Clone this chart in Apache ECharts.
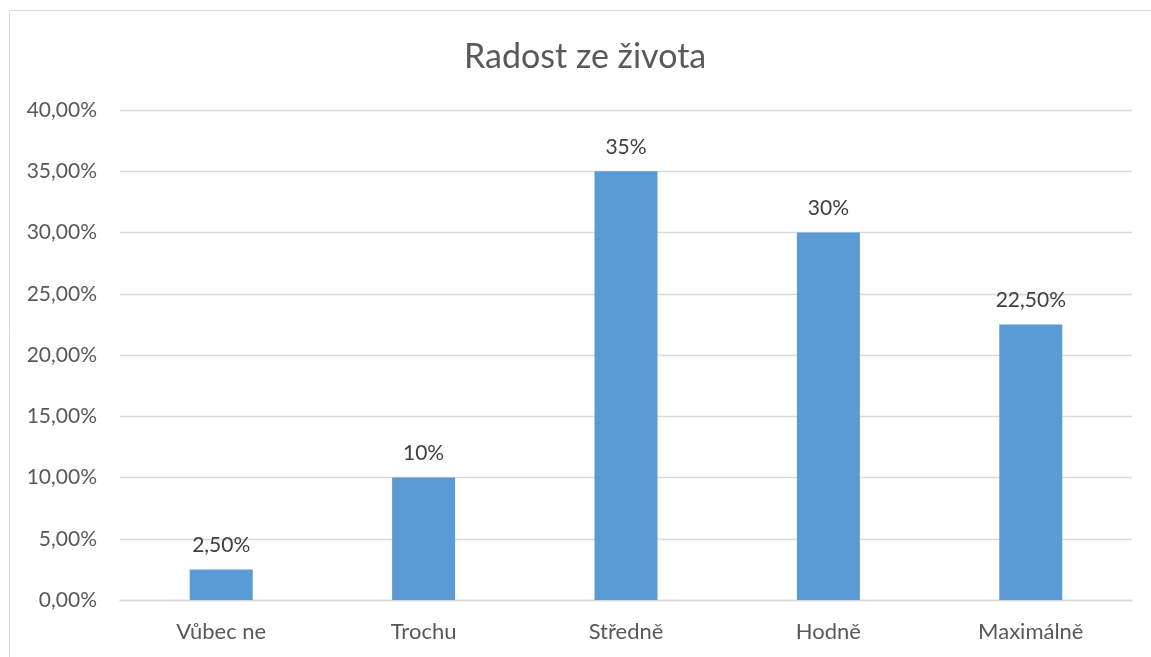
<!DOCTYPE html>
<html>
<head>
<meta charset="utf-8">
<script src="https://cdn.jsdelivr.net/npm/echarts@6/dist/echarts.min.js"></script>
<style>
  html, body { margin: 0; padding: 0; background: #fff; }
  #chart { width: 1151px; height: 657px; }
</style>
</head>
<body>
<div id="chart"></div>
<script>
const categories = ['Vůbec ne', 'Trochu', 'Středně', 'Hodně', 'Maximálně'];
const values = [2.5, 10, 35, 30, 22.5];
const valueLabels = ['2,50%', '10%', '35%', '30%', '22,50%'];

const myChart = echarts.init(document.getElementById('chart'));
myChart.setOption({
  animation: false,
  textStyle: { fontFamily: 'Lato' },
  title: {
    text: 'Radost ze života',
    left: 459,
    top: 35,
    textStyle: { color: '#595959', fontSize: 34, fontWeight: 'normal', fontFamily: 'Lato' }
  },
  graphic: [{
    type: 'rect',
    shape: { x: 9.5, y: 10.5, width: 1200, height: 700 },
    style: { fill: 'none', stroke: '#d9d9d9', lineWidth: 1 },
    silent: true
  }],
  grid: { left: 120, right: 19, top: 110, bottom: 57 },
  xAxis: {
    type: 'category',
    data: categories,
    axisLine: { lineStyle: { color: '#d9d9d9', width: 1.3 } },
    axisTick: { show: false },
    axisLabel: { color: '#595959', fontSize: 22, margin: 21 }
  },
  yAxis: {
    type: 'value',
    min: 0,
    max: 40,
    interval: 5,
    axisLine: { show: false },
    axisTick: { show: false },
    splitLine: { lineStyle: { color: '#d9d9d9', width: 1.3 } },
    axisLabel: {
      color: '#595959',
      fontSize: 21,
      margin: 23,
      formatter: v => v.toFixed(2).replace('.', ',') + '%'
    }
  },
  series: [{
    type: 'bar',
    data: values,
    barWidth: 63,
    itemStyle: { color: '#5b9bd5' },
    label: {
      show: true,
      position: 'top',
      distance: 14,
      color: '#404040',
      fontSize: 21,
      formatter: p => valueLabels[p.dataIndex]
    }
  }]
});
</script>
</body>
</html>
